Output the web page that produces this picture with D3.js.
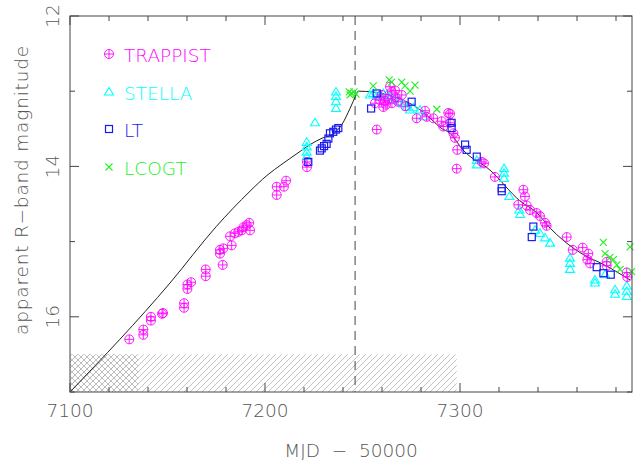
<!DOCTYPE html>
<html><head><meta charset="utf-8">
<script src="https://cdn.jsdelivr.net/npm/d3@7"></script>
<style>
html,body{margin:0;padding:0;background:#fff;}
text{font-family:"DejaVu Sans",sans-serif;font-weight:200;}
</style></head>
<body>
<svg id="c" width="644" height="460"></svg>
<script>
// ---------- data ----------
const trappist = [[7130.4,16.30],[7137.6,16.17],[7137.6,16.24],[7141.5,16.00],[7141.5,16.05],[7147.2,15.96],[7147.7,15.95],
[7158.5,15.82],[7158.5,15.88],[7160.2,15.57],[7160.2,15.63],[7162.1,15.54],[7169.6,15.37],[7169.6,15.46],[7176.9,15.11],
[7178.6,15.09],[7176.9,15.16],[7178.3,15.31],[7182.1,14.93],[7182.9,15.05],[7184.6,14.89],[7186.3,14.87],[7188.1,14.85],
[7188.9,14.81],[7190.6,14.78],[7191.9,14.75],[7192.3,14.85],[7206.0,14.27],[7206.0,14.38],[7210.8,14.19],[7209.7,14.27],
[7221.5,13.94],[7221.5,14.01],
[7256.4,13.16],[7259.0,13.12],[7260.7,13.21],[7261.5,13.13],[7263.1,13.10],[7264.1,12.94],[7265.0,13.01],[7266.7,12.99],
[7268.2,13.14],[7270.1,13.05],[7265.1,13.16],[7262.0,13.18],[7267.0,13.08],[7272.0,13.20],[7259.8,13.05],[7257.3,13.51],
[7277.8,13.36],[7282.1,13.26],[7282.9,13.34],[7286.3,13.36],[7290.6,13.40],[7291.4,13.47],[7294.0,13.29],[7294.9,13.42],
[7294.9,13.30],[7296.6,13.56],[7297.4,13.62],[7298.6,13.78],[7298.3,14.03],[7311.1,13.94],[7312.3,13.96],[7317.9,14.14],
[7332.5,14.31],[7333.3,14.40],[7329.9,14.51],[7334.2,14.52],[7335.9,14.58],[7339.3,14.62],[7341.0,14.66],[7343.6,14.75],
[7344.4,14.79],[7354.7,14.94],[7357.8,15.11],[7362.9,15.08],[7365.8,15.16],[7365.3,15.24],[7366.7,15.29],[7375.2,15.27],
[7375.2,15.32],[7385.5,15.41],[7385.8,15.47]];

const stella = [[7221.4,13.68],[7221.4,13.74],[7221.4,13.81],[7221.4,13.87],[7225.6,13.42],[7236.4,13.01],[7236.4,13.07],
[7236.4,13.14],[7236.4,13.23],
[7253.8,13.05],[7255.5,13.03],[7257.3,13.07],[7259.0,13.05],[7260.7,13.03],[7262.4,13.05],[7264.1,13.08],[7265.8,13.11],
[7267.5,13.09],[7269.2,13.14],[7270.9,13.17],[7272.7,13.21],[7274.4,13.25],[7276.1,13.22],[7279.5,13.25],[7281.2,13.34],
[7308.6,13.92],[7308.6,13.98],[7322.6,14.03],[7322.6,14.09],[7322.6,14.16],[7325.3,14.40],[7330.4,14.58],[7330.8,14.64],
[7338.5,14.85],[7341.0,14.89],[7343.6,14.95],[7346.2,15.02],[7356.4,15.22],[7356.4,15.29],[7356.4,15.37],[7369.2,15.51],
[7369.2,15.55],[7374.4,15.44],[7379.5,15.64],[7379.5,15.70],[7385.5,15.59],[7385.5,15.66],[7385.5,15.73]];

const lt = [[7222.2,13.94],[7228.2,13.79],[7229.1,13.76],[7230.3,13.73],[7231.6,13.70],[7232.5,13.63],[7233.3,13.56],
[7235.0,13.54],[7236.4,13.51],[7237.6,13.49],[7254.4,13.23],[7257.3,13.03],[7275.2,13.14],[7295.7,13.49],[7295.7,13.42],
[7302.6,13.71],[7303.4,13.78],[7308.6,13.87],[7321.4,14.29],[7321.4,14.33],[7337.6,14.80],[7336.8,14.94],[7370.1,15.34],
[7373.5,15.42],[7377.3,15.44]];

const lcogt = [[7243.2,13.01],[7244.5,13.03],[7245.6,13.01],[7243.6,13.05],[7246.7,13.04],[7255.5,12.93],[7263.7,12.85],
[7264.9,12.88],[7270.1,12.88],[7271.8,12.93],[7274.4,13.00],[7276.9,12.92],[7288.1,13.24],[7373.5,15.01],[7374.4,15.16],
[7376.9,15.21],[7378.6,15.24],[7380.4,15.31],[7382.1,15.37],[7387.2,15.07],[7388.0,15.40]];

const model = [[7100,17.0],[7151.3,15.55],[7175.0,14.80],[7192.3,14.33],[7201.0,14.12],[7208.7,13.97],[7216.4,13.83],
[7223.1,13.71],[7229.7,13.62],[7234.9,13.57],[7239.5,13.44],[7243.6,13.23],[7246.7,13.05],[7247.7,13.00],[7255.4,13.01],
[7266.7,13.08],[7276.9,13.20],[7285.6,13.38],[7289.7,13.48],[7294.9,13.56],[7301.5,13.78],[7315.4,14.05],[7330.8,14.46],
[7339.5,14.62],[7346.2,14.82],[7352.8,14.98],[7365.1,15.20],[7371.8,15.28],[7387.2,15.51]];

const xTickLabels = [7100, 7200, 7300];
const yTickLabels = [12, 14, 16];
const legendNames = ["TRAPPIST", "STELLA", "LT", "LCOGT"];
const peakMJD = 7246.2;
const hatchRange = [7100, 7298.3];
const crossRange = [7100, 7135];
const hatchMag = [16.5, 17.0];

// ---------- chart ----------
const svg = d3.select("#c");
const x = d3.scaleLinear().domain([7100, 7388.2]).range([70, 632]);
const y = d3.scaleLinear().domain([12, 17]).range([16, 392]);
const colors = {TRAPPIST:"#ff00ff", STELLA:"#00ffff", LT:"#1a1aee", LCOGT:"#22ee22"};
const axisCol = "#444";

const defs = svg.append("defs");
const pd = defs.append("pattern").attr("id","diag").attr("patternUnits","userSpaceOnUse")
  .attr("width",6).attr("height",6);
pd.append("path").attr("d","M-1,1 l2,-2 M0,6 l6,-6 M5,7 l2,-2").attr("stroke","#b4b4b4").attr("stroke-width",0.8);
const pc = defs.append("pattern").attr("id","cross").attr("patternUnits","userSpaceOnUse")
  .attr("width",6).attr("height",6);
pc.append("path").attr("d","M-1,1 l2,-2 M0,6 l6,-6 M5,7 l2,-2 M-1,5 l2,2 M0,0 l6,6 M5,-1 l2,2")
  .attr("stroke","#b4b4b4").attr("stroke-width",0.8);

svg.append("rect").attr("x",x(hatchRange[0])).attr("width",x(hatchRange[1])-x(hatchRange[0]))
  .attr("y",y(hatchMag[0])).attr("height",y(hatchMag[1])-y(hatchMag[0])).attr("fill","url(#diag)");
svg.append("rect").attr("x",x(crossRange[0])).attr("width",x(crossRange[1])-x(crossRange[0]))
  .attr("y",y(hatchMag[0])).attr("height",y(hatchMag[1])-y(hatchMag[0])).attr("fill","url(#cross)");

// dashed vertical
svg.append("line").attr("x1",x(peakMJD)).attr("x2",x(peakMJD)).attr("y1",y(12)).attr("y2",y(17))
  .attr("stroke","#555").attr("stroke-width",1.1).attr("stroke-dasharray","9,6");

// model line
svg.append("path").datum(model)
  .attr("d", d3.line().x(d=>x(d[0])).y(d=>y(d[1])).curve(d3.curveMonotoneX))
  .attr("fill","none").attr("stroke","#222").attr("stroke-width",1);

// markers
function drawMarker(g, type, cx, cy){
  const c = colors[type];
  if(type==="TRAPPIST"){
    g.append("circle").attr("cx",cx).attr("cy",cy).attr("r",4.5).attr("fill","none").attr("stroke",c).attr("stroke-width",0.9);
    g.append("path").attr("d",`M${cx-4.5},${cy}h9M${cx},${cy-4.5}v9`).attr("stroke",c).attr("stroke-width",0.9);
  } else if(type==="STELLA"){
    g.append("path").attr("d",`M${cx},${cy-4.5}L${cx+4.5},${cy+3}L${cx-4.5},${cy+3}Z`).attr("fill","none").attr("stroke",c).attr("stroke-width",1.1);
  } else if(type==="LT"){
    g.append("rect").attr("x",cx-3.5).attr("y",cy-3.5).attr("width",7).attr("height",7).attr("fill","none").attr("stroke",c).attr("stroke-width",1.2);
  } else {
    g.append("path").attr("d",`M${cx-3.5},${cy-3.5}l7,7M${cx-3.5},${cy+3.5}l7,-7`).attr("stroke",c).attr("stroke-width",1.1);
  }
}
const seriesList = [["STELLA",stella],["TRAPPIST",trappist],["LT",lt],["LCOGT",lcogt]];
seriesList.forEach(([name,data])=>{
  const g = svg.append("g");
  data.forEach(d=>drawMarker(g,name,x(d[0]),y(d[1])));
});

// frame
svg.append("rect").attr("x",x.range()[0]).attr("y",y.range()[0])
  .attr("width",x.range()[1]-x.range()[0]).attr("height",y.range()[1]-y.range()[0])
  .attr("fill","none").attr("stroke",axisCol).attr("stroke-width",1);

// ticks
const xMinor = d3.range(7100, 7389, 20);
const yMinor = d3.range(12, 17.01, 1);
const tk = svg.append("g").attr("stroke",axisCol).attr("stroke-width",1);
xMinor.forEach(v=>{
  const L = (v%100===0)?9:5;
  tk.append("line").attr("x1",x(v)).attr("x2",x(v)).attr("y1",y(17)).attr("y2",y(17)-L);
  tk.append("line").attr("x1",x(v)).attr("x2",x(v)).attr("y1",y(12)).attr("y2",y(12)+L);
});
yMinor.forEach(v=>{
  const L = (v%2===0)?9:5;
  tk.append("line").attr("x1",x.range()[0]).attr("x2",x.range()[0]+L).attr("y1",y(v)).attr("y2",y(v));
  tk.append("line").attr("x1",x.range()[1]).attr("x2",x.range()[1]-L).attr("y1",y(v)).attr("y2",y(v));
});

// tick labels
const fs = 18.5;
xTickLabels.forEach(v=>{
  svg.append("text").attr("x",x(v)).attr("y",417).attr("text-anchor","middle")
    .attr("font-size",fs).attr("fill","#555").text(v);
});
yTickLabels.forEach(v=>{
  svg.append("text").attr("transform",`translate(59,${y(v)}) rotate(-90)`).attr("text-anchor","middle")
    .attr("font-size",fs).attr("fill","#555").text(v);
});

// axis titles
svg.append("text").attr("x",351).attr("y",457).attr("text-anchor","middle")
  .attr("font-size",fs).attr("fill","#555").style("white-space","pre").text("MJD  \u2212  50000");
svg.append("text").attr("transform","translate(28,190) rotate(-90)").attr("text-anchor","middle")
  .attr("font-size",fs).attr("fill","#555").attr("letter-spacing",0.8).text("apparent R\u2212band magnitude");

// legend
const legBase = [62, 100, 137, 175];
legendNames.forEach((n,i)=>{
  const g = svg.append("g");
  drawMarker(g, n, 109, legBase[i]-8);
  svg.append("text").attr("x",124).attr("y",legBase[i]).attr("font-size",fs)
    .attr("fill",colors[n]).text(n);
});
</script>
</body></html>
